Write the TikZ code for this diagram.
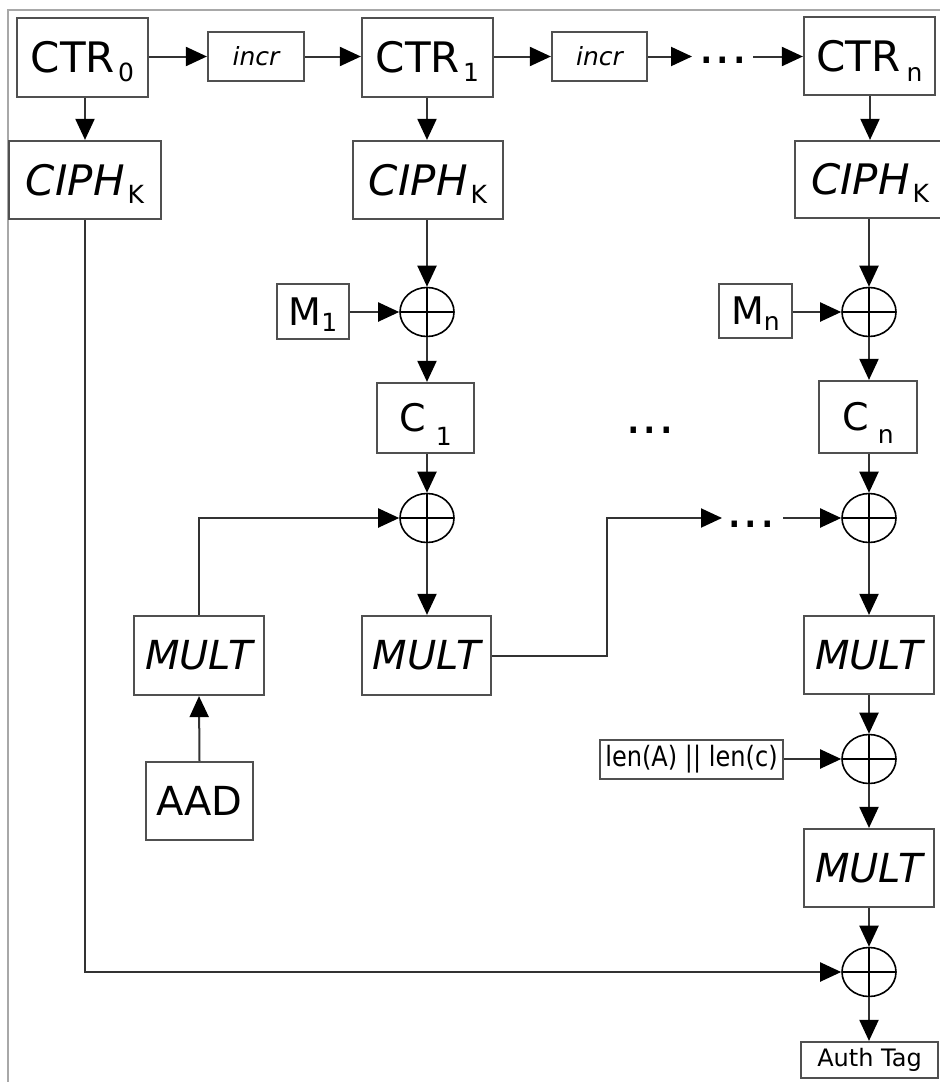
\documentclass[tikz,border=0pt]{standalone}
\usepackage{fontspec}
\usepackage{graphicx}
\setmainfont{DejaVu Sans}
\usetikzlibrary{arrows.meta,shapes.geometric,calc}
\definecolor{boxgray}{HTML}{505050}
\definecolor{linegray}{HTML}{333333}
\definecolor{framegray}{HTML}{A8A8A8}
\newcommand\sbs[4]{\hspace{#1}\raisebox{-#2}[0pt][0pt]{\fontsize{#3}{#3}\selectfont #4}}
\newcommand\fbig{\fontsize{21pt}{21pt}\selectfont}
\newcommand\fmid{\fontsize{19pt}{19pt}\selectfont}
\newcommand\fmult{\fontsize{20pt}{20pt}\selectfont}
\begin{document}
\begin{tikzpicture}[x=0.5pt,y=-0.5pt,
  bx/.style={draw=boxgray,line width=1.1pt,inner sep=0pt},
  sz/.style 2 args={minimum width=#1*0.5pt,minimum height=#2*0.5pt},
  xo/.style={ellipse,draw=black,line width=0.8pt,minimum width=27pt,minimum height=24.5pt,inner sep=0pt,
    path picture={\draw[line width=0.7pt] (path picture bounding box.north) -- (path picture bounding box.south)
      (path picture bounding box.west) -- (path picture bounding box.east);}},
  ar/.style={draw=linegray,line width=1pt,-{Triangle[length=10.5pt,width=9.5pt,color=black]}},
  ln/.style={draw=linegray,line width=1pt},
  dots/.style={font=\fontsize{26pt}{26pt}\selectfont,inner sep=0pt,anchor=base},
  incrs/.style={font=\fontsize{12.5pt}{12.5pt}\selectfont\itshape}]
\useasboundingbox (0,0) rectangle (940,1082);
\draw[framegray,line width=0.6pt] (8,1082) -- (8,10) -- (940,10);

% counters
\node[bx,sz={131}{79},font=\fbig] (CTR0) at (82.5,57.5) {CTR\sbs{1.5pt}{4.5pt}{12.5pt}{0}};
\node[bx,sz={96}{49},incrs] (incr1) at (256,56.5) {incr};
\node[bx,sz={131}{79},font=\fbig] (CTR1) at (427.5,57.5) {CTR\sbs{1.5pt}{4.5pt}{12.5pt}{1}};
\node[bx,sz={95}{49},incrs] (incr2) at (599.5,56.5) {incr};
\node[bx,sz={131}{78},font=\fbig] (CTRn) at (869.5,56) {CTR\sbs{3pt}{5pt}{12.5pt}{n}};

% ciphers
\node[bx,sz={152}{78},font=\fbig] (CIPH0) at (85,180) {\itshape CIPH\sbs{1.5pt}{4pt}{12.5pt}{\upshape K}};
\node[bx,sz={150}{78},font=\fbig] (CIPH1) at (428,180) {\itshape CIPH\sbs{1.5pt}{4pt}{12.5pt}{\upshape K}};
\node[bx,sz={150}{77},font=\fbig] (CIPHn) at (870,179.5) {\itshape CIPH\sbs{1.5pt}{4pt}{12.5pt}{\upshape K}};

% messages and ciphertexts
\node[bx,sz={72}{55},font=\fmid] (M1) at (313,311.5) {M\sbs{0pt}{3pt}{12.5pt}{1}};
\node[bx,sz={73}{54},font=\fmid] (Mn) at (755.5,311) {M\sbs{0pt}{3pt}{12.5pt}{n}};
\node[bx,sz={97}{70},font=\fmid] (C1) at (425.5,418) {C\sbs{5pt}{7pt}{12.5pt}{1}};
\node[bx,sz={98}{72},font=\fmid] (Cn) at (868,417) {C\sbs{4.5pt}{6.5pt}{12.5pt}{n}};

% xors
\node[xo] (X1) at (427,312) {};
\node[xo] (X2) at (427,518) {};
\node[xo] (Y1) at (869,312) {};
\node[xo] (Y2) at (869,518) {};
\node[xo] (Y3) at (869,759) {};
\node[xo] (Y4) at (869,972) {};

% mult / aad / len / tag
\node[bx,sz={130}{79},font=\fmult\itshape] (MULTL) at (199,655.5) {MULT};
\node[bx,sz={129}{79},font=\fmult\itshape] (MULT1) at (426.5,655.5) {MULT};
\node[bx,sz={107}{78},font=\fmult] (AAD) at (199.5,801) {AAD};
\node[bx,sz={130}{78},font=\fmult\itshape] (MULTn) at (869,655) {MULT};
\node[bx,sz={183}{39}] (len) at (691.5,759.5) {\scalebox{0.86}[1]{\fontsize{14pt}{14pt}\selectfont len(A) || len(c)}};
\node[bx,sz={130}{78},font=\fmult\itshape] (MULTn2) at (869,868) {MULT};
\node[bx,sz={137}{36},font=\fontsize{12pt}{12pt}\selectfont] (auth) at (869.5,1060) {Auth Tag};

% dots
\node[dots] (dt1) at (723,63) {...};
\node[dots] (dt2) at (650,433) {...};
\node[dots] (dt3) at (751,527) {...};
\coordinate (d1a) at (692,56.5);
\coordinate (d1b) at (753,56.5);
\coordinate (d2a) at (722,518);
\coordinate (d2b) at (783,518);
\coordinate (k2) at (607,518);

% top row
\draw[ar] (CTR0.east |- incr1.west) -- (incr1.west);
\draw[ar] (incr1.east) -- (incr1.east -| CTR1.west);
\draw[ar] (CTR1.east |- incr2.west) -- (incr2.west);
\draw[ar] (incr2.east) -- (d1a);
\draw[ar] (d1b) -- (d1b -| CTRn.west);

% counters to ciphers
\draw[ar] (CIPH0.north |- CTR0.south) -- (CIPH0.north);
\draw[ar] (X1 |- CTR1.south) -- (X1 |- CIPH1.north);
\draw[ar] (CIPHn.north |- CTRn.south) -- (CIPHn.north);

% column 1
\draw[ar] (X1 |- CIPH1.south) -- (X1.north);
\draw[ar] (X1.west -| M1.east) -- (X1.west);
\draw[ar] (X1.south) -- (X1.south |- C1.north);
\draw[ar] (X2 |- C1.south) -- (X2.north);
\draw[ar] (X2.south) -- (X2.south |- MULT1.north);
\draw[ar] (MULTL.north) |- (X2.west);
\draw[ar] (AAD.north) -- (MULTL.south);
\draw[ar] (MULT1.east) -| (k2) -- (d2a);
\draw[ar] (d2b) -- (Y2.west);

% column n
\draw[ar] (Y1 |- CIPHn.south) -- (Y1.north);
\draw[ar] (Y1.west -| Mn.east) -- (Y1.west);
\draw[ar] (Y1.south) -- (Y1.south |- Cn.north);
\draw[ar] (Y2 |- Cn.south) -- (Y2.north);
\draw[ar] (Y2.south) -- (Y2.south |- MULTn.north);
\draw[ar] (Y3 |- MULTn.south) -- (Y3.north);
\draw[ar] (Y3.west -| len.east) -- (Y3.west);
\draw[ar] (Y3.south) -- (Y3.south |- MULTn2.north);
\draw[ar] (Y4 |- MULTn2.south) -- (Y4.north);
\draw[ar] (Y4.south) -- (Y4.south |- auth.north);

% long feed from CIPH0
\draw[ar] (CIPH0.south) |- (Y4.west);
\end{tikzpicture}
\end{document}
